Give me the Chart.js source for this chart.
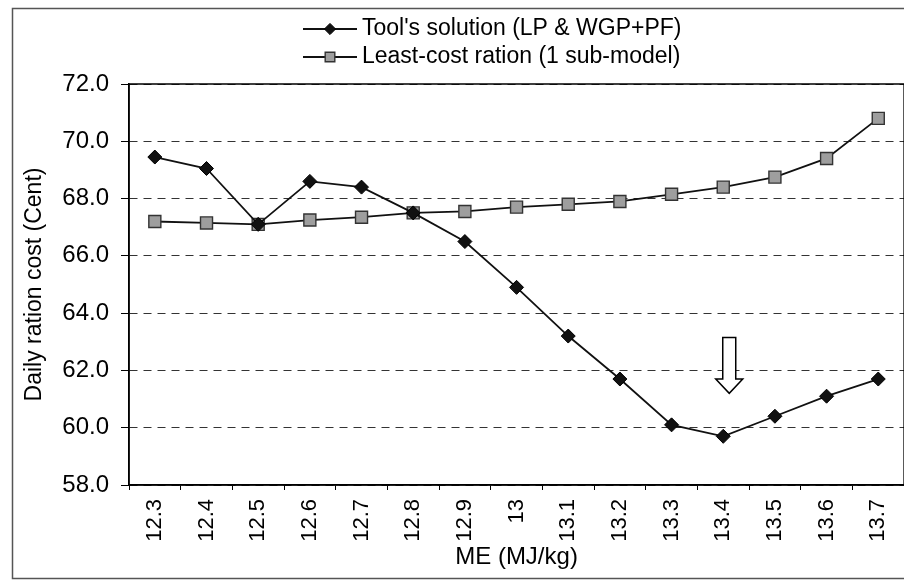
<!DOCTYPE html>
<html>
<head>
<meta charset="utf-8">
<title>Daily ration cost vs ME</title>
<script src="https://cdn.jsdelivr.net/npm/chart.js@4"></script>
<style>
  html, body { margin: 0; padding: 0; background: #fff; overflow: hidden; }
  #wrap { width: 904px; height: 582px; overflow: hidden; }
</style>
</head>
<body>
<div id="wrap"><canvas id="myChart" width="914" height="582"></canvas></div>
<script>
// ME levels (MJ/kg) on the x axis
const meLevels = ['12.3', '12.4', '12.5', '12.6', '12.7', '12.8', '12.9', '13',
                  '13.1', '13.2', '13.3', '13.4', '13.5', '13.6', '13.7'];

// Daily ration cost (Cent)
const toolCost = [69.45, 69.05, 67.1, 68.6, 68.4, 67.5, 66.5, 64.9,
                  63.2, 61.7, 60.1, 59.7, 60.4, 61.1, 61.7];
const leastCost = [67.2, 67.15, 67.1, 67.25, 67.35, 67.5, 67.55, 67.7,
                   67.8, 67.9, 68.15, 68.4, 68.75, 69.4, 70.8];

const seriesNames = ["Tool's solution (LP & WGP+PF)", 'Least-cost ration (1 sub-model)'];

// y axis range and step
const yMin = 58, yMax = 72, yStep = 2;

// hollow arrow pointing at the cheapest ration
const arrowAt = { label: '13.4', top: 63.15, neck: 61.7, tip: 61.2 };

const FONT = '"Liberation Sans", Arial, sans-serif';

// outer chart border and the plot frame
const framePlugin = {
  id: 'frame',
  beforeDraw(chart) {
    const ctx = chart.ctx;
    ctx.save();
    ctx.fillStyle = '#fff';
    ctx.fillRect(0, 0, chart.width, chart.height);
    ctx.strokeStyle = '#555';
    ctx.lineWidth = 1.5;
    ctx.strokeRect(12.5, 8.5, chart.width, chart.height - 12);
    ctx.restore();
  },
  beforeDatasetsDraw(chart) {
    const a = chart.chartArea, ctx = chart.ctx;
    ctx.save();
    ctx.strokeStyle = '#000';
    ctx.lineWidth = 1.5;
    ctx.strokeRect(a.left, a.top, a.right - a.left, a.bottom - a.top);
    ctx.restore();
  }
};

// arrow + legend with line/marker samples
const notesPlugin = {
  id: 'notes',
  afterDatasetsDraw(chart) {
    const ctx = chart.ctx;
    const xs = chart.scales.x, ys = chart.scales.y;
    const cx = xs.getPixelForValue(meLevels.indexOf(arrowAt.label)) + 6;
    const yTop = ys.getPixelForValue(arrowAt.top);
    const yNeck = ys.getPixelForValue(arrowAt.neck);
    const yTip = ys.getPixelForValue(arrowAt.tip);
    ctx.save();
    ctx.beginPath();
    ctx.moveTo(cx - 6.5, yTop);
    ctx.lineTo(cx + 6.5, yTop);
    ctx.lineTo(cx + 6.5, yNeck);
    ctx.lineTo(cx + 13.5, yNeck);
    ctx.lineTo(cx, yTip);
    ctx.lineTo(cx - 13.5, yNeck);
    ctx.lineTo(cx - 6.5, yNeck);
    ctx.closePath();
    ctx.fillStyle = '#fff';
    ctx.fill();
    ctx.strokeStyle = '#000';
    ctx.lineWidth = 1.5;
    ctx.stroke();
    ctx.restore();
  },
  afterDraw(chart) {
    const ctx = chart.ctx;
    const rows = [29, 57];
    chart.data.datasets.forEach((ds, i) => {
      const y = rows[i];
      ctx.save();
      ctx.strokeStyle = ds.borderColor;
      ctx.lineWidth = ds.borderWidth;
      ctx.beginPath();
      ctx.moveTo(303, y);
      ctx.lineTo(357, y);
      ctx.stroke();
      ctx.fillStyle = ds.pointBackgroundColor;
      ctx.strokeStyle = ds.pointBorderColor;
      ctx.lineWidth = ds.pointBorderWidth;
      Chart.helpers.drawPoint(ctx, {
        pointStyle: ds.pointStyle,
        radius: ds.pointRadius * 0.8,
        borderWidth: ds.pointBorderWidth
      }, 330, y);
      ctx.fillStyle = '#000';
      ctx.font = '23px ' + FONT;
      ctx.textBaseline = 'middle';
      ctx.textAlign = 'left';
      ctx.fillText(ds.label, 362, y);
      ctx.restore();
    });
  }
};

const ctx = document.getElementById('myChart').getContext('2d');

const myChart = new Chart(ctx, {
  type: 'line',
  data: {
    labels: meLevels,
    datasets: [{
      label: seriesNames[0],
      data: toolCost,
      borderColor: '#111',
      borderWidth: 1.8,
      pointStyle: 'rectRot',
      pointRadius: 7,
      pointBackgroundColor: '#111',
      pointBorderColor: '#000',
      pointBorderWidth: 1,
      tension: 0
    }, {
      label: seriesNames[1],
      data: leastCost,
      borderColor: '#111',
      borderWidth: 1.8,
      pointStyle: 'rect',
      pointRadius: 8.5,
      pointBackgroundColor: '#9e9e9e',
      pointBorderColor: '#333',
      pointBorderWidth: 1.4,
      tension: 0
    }]
  },
  plugins: [framePlugin, notesPlugin],
  options: {
    responsive: false,
    animation: false,
    devicePixelRatio: 1,
    layout: { padding: { top: 84, left: 0, right: 0, bottom: 0 } },
    plugins: {
      legend: { display: false },
      tooltip: { enabled: false }
    },
    scales: {
      x: {
        offset: true,
        afterFit: (scale) => { scale.height = 97; },
        grid: {
          offset: true,
          drawOnChartArea: false,
          drawTicks: true,
          tickLength: 5,
          tickColor: '#000',
          tickWidth: 1
        },
        border: { color: '#000', width: 1.5 },
        ticks: {
          color: '#000',
          font: { family: FONT, size: 22 },
          minRotation: 90,
          maxRotation: 90,
          autoSkip: false,
          padding: 9
        },
        title: {
          display: true,
          text: 'ME (MJ/kg)',
          color: '#000',
          font: { family: FONT, size: 24 },
          padding: { top: 0, bottom: 10 }
        }
      },
      y: {
        min: yMin,
        max: yMax,
        afterFit: (scale) => { scale.width = 129; },
        grid: {
          color: '#333',
          lineWidth: 1,
          drawTicks: true,
          tickLength: 8,
          tickColor: '#000',
          tickWidth: 1
        },
        border: { color: '#000', width: 1.5, dash: [8, 6] },
        ticks: {
          stepSize: yStep,
          color: '#000',
          font: { family: FONT, size: 24 },
          padding: 12,
          callback: (v) => Number(v).toFixed(1)
        },
        title: {
          display: true,
          text: 'Daily ration cost (Cent)',
          color: '#000',
          font: { family: FONT, size: 23 },
          padding: { top: 21, bottom: 0 }
        }
      }
    }
  }
});
</script>
</body>
</html>
